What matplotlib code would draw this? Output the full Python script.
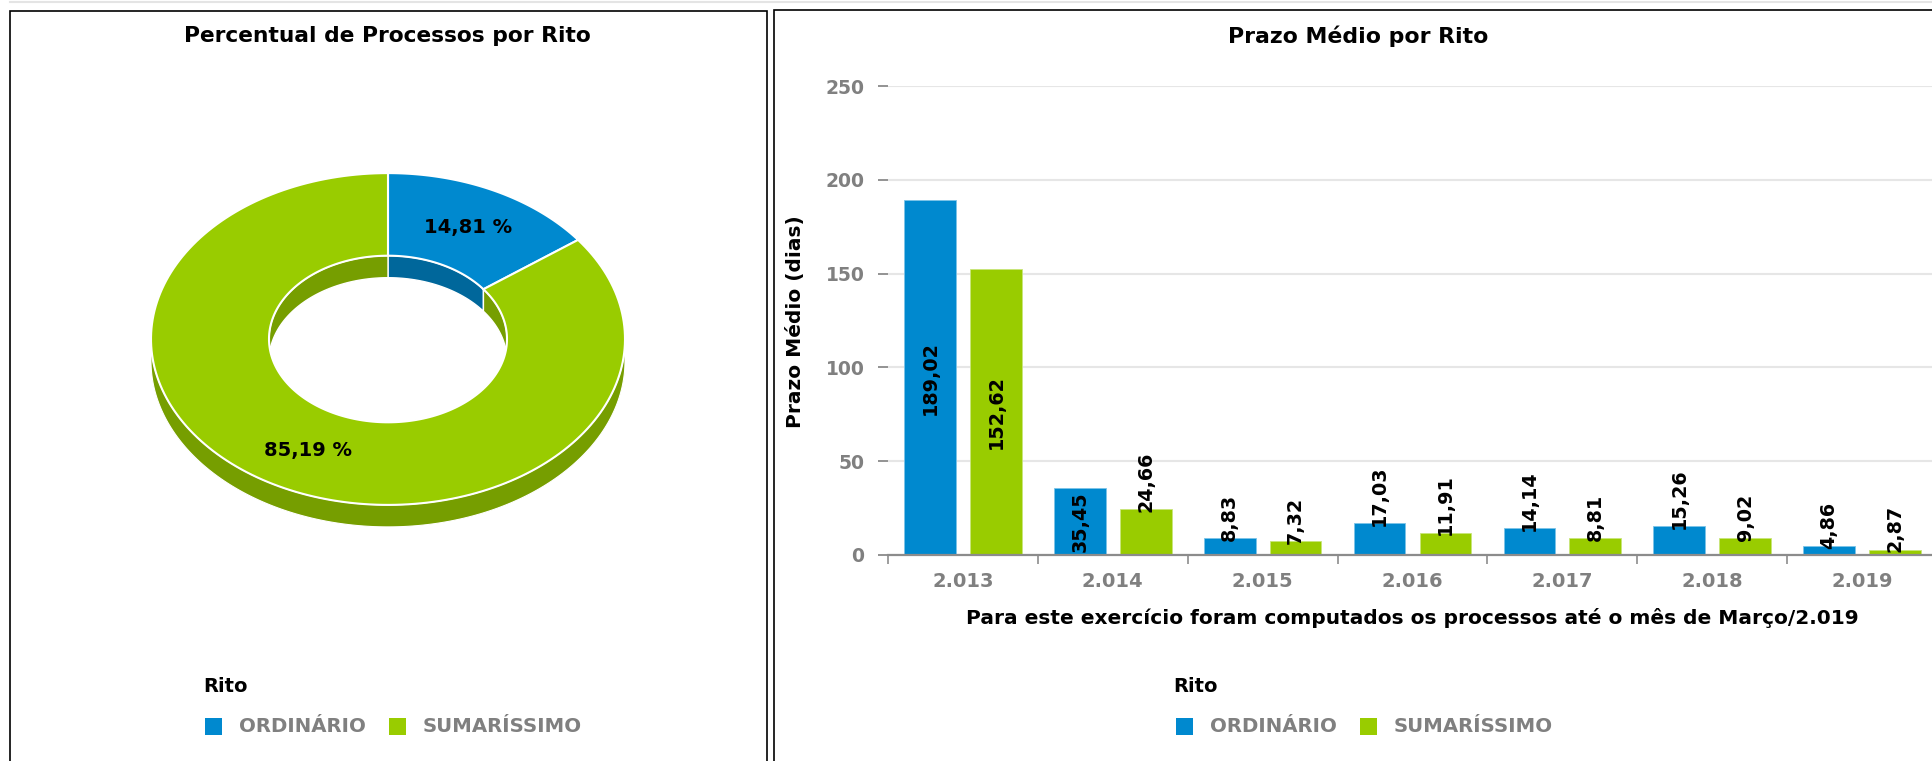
import matplotlib
matplotlib.use("Agg")
import matplotlib.pyplot as plt
import numpy as np
from matplotlib.patches import Polygon, Rectangle
from matplotlib.lines import Line2D

# data
ritos = ["ORDINÁRIO", "SUMARÍSSIMO"]
percentuais = [14.81, 85.19]
anos = ["2.013", "2.014", "2.015", "2.016", "2.017", "2.018", "2.019"]
prazo_ordinario = [189.02, 35.45, 8.83, 17.03, 14.14, 15.26, 4.86]
prazo_sumarissimo = [152.62, 24.66, 7.32, 11.91, 8.81, 9.02, 2.87]

cores = ["#0089cf", "#99cc00"]
cores_escuras = ["#00679b", "#769e00"]
cinza = "#808080"

W, H = 1932, 761
plt.rcParams["font.family"] = ["DejaVu Sans"]
fig = plt.figure(figsize=(W / 100, H / 100), dpi=100)


def fx(x):
    return x / W


def fy(y):
    return 1 - y / H


def br(v, casas=2):
    return f"{v:.{casas}f}".replace(".", ",")


# panel frames
fig.add_artist(Line2D([fx(10), fx(W)], [fy(2), fy(2)], color="#e4e4e4", lw=1.5))
fig.add_artist(Rectangle((fx(10), fy(H + 5)), fx(757), fy(11) - fy(H + 5),
                         fill=False, ec="black", lw=1.2, transform=fig.transFigure))
fig.add_artist(Rectangle((fx(774), fy(H + 5)), fx(1200), fy(10) - fy(H + 5),
                         fill=False, ec="black", lw=1.2, transform=fig.transFigure))

# ---------- donut (pixel units, centre at 0,0) ----------
cx, cy = 388, 339
R, r, k, d = 237, 119, 0.70, 22
ax1 = fig.add_axes([0, 0, 768 / W, 1])
ax1.set_xlim(-cx, 768 - cx)
ax1.set_ylim(-(H - cy), cy)
ax1.axis("off")

fr = np.array(percentuais) / sum(percentuais)
fim = 90 - np.cumsum(fr) * 360
ini = np.concatenate([[90], fim[:-1]])


def arco(rad, a, b, dy=0, n=200):
    t = np.radians(np.linspace(a, b, n))
    return np.column_stack([rad * np.cos(t), k * rad * np.sin(t) + dy])


for i in range(len(ritos)):
    a1, a2 = fim[i], ini[i]
    t = np.linspace(a1, a2, 600)
    # outer side wall (front half)
    m = np.sin(np.radians(t)) <= 0
    if m.sum() > 1:
        tt = t[m]
        top = arco(R, tt[0], tt[-1])
        bot = arco(R, tt[-1], tt[0], -d)
        ax1.add_patch(Polygon(np.vstack([top, bot]), fc=cores_escuras[i],
                              ec="white", lw=0.8, zorder=1))
    # inner wall (back half)
    m2 = np.sin(np.radians(t)) >= 0
    if m2.sum() > 1:
        tt = t[m2]
        top = arco(r, tt[0], tt[-1])
        bot = arco(r, tt[-1], tt[0], -d)
        ax1.add_patch(Polygon(np.vstack([top, bot]), fc=cores_escuras[i],
                              ec="white", lw=1.0, zorder=1))

for i in range(len(ritos)):
    a1, a2 = fim[i], ini[i]
    pts = np.vstack([arco(R, a1, a2), arco(r, a2, a1)])
    ax1.add_patch(Polygon(pts, fc=cores[i], ec="white", lw=1.5, zorder=2))
    meio = np.radians((a1 + a2) / 2)
    rm = (R + r) / 2
    ax1.text(rm * np.cos(meio), k * rm * np.sin(meio), br(percentuais[i]) + " %",
             ha="center", va="center", fontsize=14, fontweight="bold", zorder=3)

fig.text(fx(387), fy(36), "Percentual de Processos por Rito", ha="center",
         va="center", fontsize=15.7, fontweight="bold")

# ---------- bars ----------
x0, x1, ytop, ybot = 888, 1937, 86, 555
ax2 = fig.add_axes([fx(x0), fy(ybot), (x1 - x0) / W, (ybot - ytop) / H])
n = len(anos)
pos = np.arange(n) + 0.5
larg = 0.345
ax2.bar(pos - 0.22, prazo_ordinario, larg, color=cores[0], ec="#7cc3e8", lw=0.6, zorder=2)
ax2.bar(pos + 0.22, prazo_sumarissimo, larg, color=cores[1], ec="#c8e67a", lw=0.6, zorder=2)
ax2.set_xlim(0, n)
ax2.set_ylim(0, 250)
ax2.set_yticks(np.arange(0, 251, 50))
ax2.yaxis.grid(True, color="#e6e6e6", lw=1.5, zorder=0)
ax2.set_axisbelow(True)
for s in ["top", "right", "left"]:
    ax2.spines[s].set_visible(False)
ax2.spines["bottom"].set_color("#8c8c8c")
ax2.spines["bottom"].set_linewidth(1.6)
ax2.spines["bottom"].set_zorder(3)
ax2.set_xticks(pos)
ax2.set_xticklabels(anos)
ax2.set_xticks(np.arange(n + 1), minor=True)
ax2.tick_params(axis="x", which="major", length=0, pad=12, labelsize=14,
                labelcolor=cinza)
ax2.tick_params(axis="x", which="minor", length=6.5, width=1.2, color="#8c8c8c")
ax2.tick_params(axis="y", length=7, width=1.2, color=cinza, pad=10,
                labelsize=13.5, labelcolor=cinza)
for lab in ax2.get_xticklabels() + ax2.get_yticklabels():
    lab.set_fontweight("bold")

px_por_unid = (ybot - ytop) / 250
for serie, off in [(prazo_ordinario, -0.22), (prazo_sumarissimo, 0.22)]:
    for xi, v in zip(pos + off, serie):
        txt = br(v)
        comp = len(txt) * 11.8
        if v * px_por_unid > comp + 4:
            ax2.text(xi, v / 2, txt, rotation=90, ha="center", va="center",
                     fontsize=13.8, fontweight="bold", zorder=4)
        else:
            ax2.annotate(txt, (xi, v), xytext=(0, -2), textcoords="offset points",
                         rotation=90, ha="center", va="bottom", fontsize=13.8,
                         fontweight="bold", zorder=4)

fig.text(fx(795), fy(322), "Prazo Médio (dias)", rotation=90, ha="center",
         va="center", fontsize=14.5, fontweight="bold")
fig.text(fx(1412), fy(618), "Para este exercício foram computados os processos até o mês de Março/2.019",
         ha="center", va="center", fontsize=14.5, fontweight="bold")
fig.text(fx(1358), fy(36), "Prazo Médio por Rito", ha="center", va="center",
         fontsize=15.8, fontweight="bold")

# ---------- legends ----------
for lx, tx in [(203, 205), (1173, 1176)]:
    fig.text(fx(lx), fy(686), "Rito", ha="left", va="center", fontsize=14,
             fontweight="bold")
    xs = [tx, tx + 184]
    for i, nome in enumerate(ritos):
        fig.add_artist(Rectangle((fx(xs[i]), fy(735)), 17 / W, 17 / H,
                                 fc=cores[i], ec="none", transform=fig.transFigure))
        fig.text(fx(xs[i] + 34), fy(727), nome, ha="left", va="center",
                 fontsize=14.2, fontweight="bold", color=cinza)

fig.savefig("out.png", dpi=100)
